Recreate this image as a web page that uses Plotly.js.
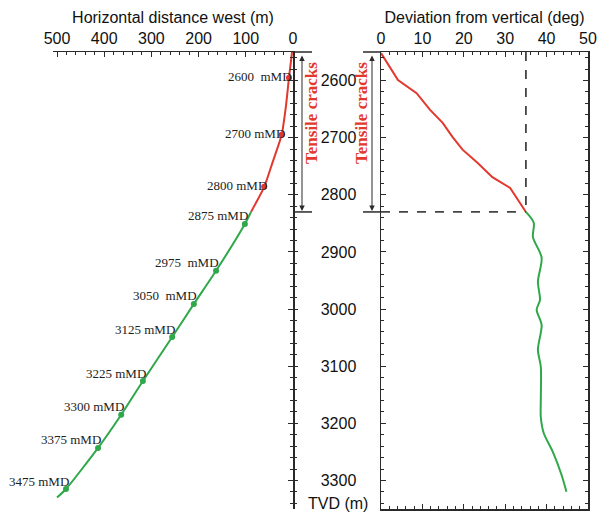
<!DOCTYPE html>
<html>
<head>
<meta charset="utf-8">
<script src="https://cdn.plot.ly/plotly-3.0.1.min.js"></script>
<style>html,body{margin:0;padding:0;background:#fff;}#chart{width:605px;height:519px;}</style>
</head>
<body>
<div id="chart"></div>
<script>
// ---- Data ----
// Left panel: horizontal distance west (m) vs TVD (m)
const hdRedTVD   = [2550, 2595, 2645, 2695, 2745, 2786, 2830];
const hdRedWest  = [2, 8.5, 15, 24, 44, 61, 89];
const hdGreenTVD  = [2830, 2851, 2933, 2991, 3049, 3126, 3185, 3243, 3315, 3330];
const hdGreenWest = [89, 102, 163, 210, 256, 318, 364, 413, 481, 500];

// Measured-depth markers
const mdLabels = ['2600  mMD', '2700 mMD', '2800 mMD', '2875 mMD', '2975  mMD', '3050  mMD',
                  '3125 mMD', '3225 mMD', '3300 mMD', '3375 mMD', '3475 mMD'];
const mdWest = [8.5, 24, 61, 102, 163, 210, 256, 318, 364, 413, 481];
const mdTVD  = [2595, 2695, 2786, 2851, 2933, 2991, 3049, 3126, 3185, 3243, 3315];
const mdInCracks = [true, true, true, false, false, false, false, false, false, false, false];

// Right panel: deviation from vertical (deg) vs TVD (m)
const devRedTVD = [2552, 2599, 2622, 2651, 2674, 2699, 2721, 2744, 2769, 2788, 2830];
const devRed    = [0, 4.1, 8.6, 11.8, 14.9, 17.3, 19.7, 23.3, 26.9, 31.2, 35.0];
const devGreenTVD = [2830, 2849, 2874, 2910, 2952, 2984, 3001, 3028, 3071, 3101, 3159, 3189, 3217, 3250, 3290, 3320];
const devGreen    = [35.0, 36.9, 36.7, 38.8, 37.9, 38.4, 37.6, 38.8, 37.9, 38.6, 38.6, 38.6, 39.3, 41.5, 43.6, 44.8];

// Tensile crack interval
const crackTop = 2550, crackBase = 2830, crackDev = 35;

// ---- Styling ----
const RED = '#e2382d', GREEN = '#2fa84a', INK = '#2a2a2a';
const W = 605, H = 519;
const px = p => p / W;
const py = p => 1 - p / H;
const sans = 'Liberation Sans, Arial, sans-serif';
const serif = 'Liberation Serif, Times New Roman, serif';

const traces = [
  {x: hdRedWest, y: hdRedTVD, xaxis: 'x', yaxis: 'y', mode: 'lines', line: {color: RED, width: 2, shape: 'spline', smoothing: 0.6}, hoverinfo: 'skip'},
  {x: hdGreenWest, y: hdGreenTVD, xaxis: 'x', yaxis: 'y', mode: 'lines', line: {color: GREEN, width: 2, shape: 'spline', smoothing: 0.6}, hoverinfo: 'skip'},
  {x: mdWest, y: mdTVD, xaxis: 'x', yaxis: 'y', mode: 'markers',
   marker: {size: 6, color: mdInCracks.map(c => c ? RED : GREEN)}, hoverinfo: 'skip'},
  {x: [], y: [], xaxis: 'x', yaxis: 'y3', mode: 'lines', hoverinfo: 'skip'},
  {x: devRed, y: devRedTVD, xaxis: 'x2', yaxis: 'y2', mode: 'lines', line: {color: RED, width: 2}, hoverinfo: 'skip'},
  {x: devGreen, y: devGreenTVD, xaxis: 'x2', yaxis: 'y2', mode: 'lines', line: {color: GREEN, width: 2, shape: 'spline', smoothing: 0.8}, hoverinfo: 'skip'}
];

const yRange = [3350, 2550];
const yDomain = [1 - 509 / H, 1 - 52 / H];
const common = {showgrid: false, zeroline: false, showline: true, linecolor: INK, linewidth: 1.5,
                tickcolor: INK, tickfont: {family: sans, size: 16, color: '#111'}};

const annotations = mdLabels.map((t, i) => ({
  x: mdWest[i], y: mdTVD[i], xref: 'x', yref: 'y', text: t, showarrow: false,
  xanchor: 'right', yanchor: 'middle', xshift: 5, yshift: mdInCracks[i] ? 1 : 8,
  font: {family: serif, size: 13, color: '#222'}
}));

// Tensile cracks labels and double arrows
[[312, 302], [362, 372]].forEach(([tx, ax]) => {
  annotations.push({x: px(tx), y: py(113), xref: 'paper', yref: 'paper', text: 'Tensile cracks',
    textangle: -90, showarrow: false, xanchor: 'center', yanchor: 'middle',
    font: {family: serif, size: 17, color: RED, weight: 'bold'}});
  annotations.push({x: px(ax), y: py(211), xref: 'paper', yref: 'paper', text: '',
    showarrow: true, ax: 0, ay: -157, arrowside: 'end+start', arrowhead: 2, arrowsize: 1.1,
    arrowwidth: 1, arrowcolor: INK, standoff: 0, startstandoff: 0});
});
annotations.push({x: px(338), y: py(503), xref: 'paper', yref: 'paper', text: 'TVD (m)',
  showarrow: false, xanchor: 'center', yanchor: 'middle', font: {family: sans, size: 16, color: '#111'}});

const shapes = [
  {type: 'line', xref: 'paper', yref: 'paper', x0: px(293), x1: px(312), y0: py(52), y1: py(52), line: {color: INK, width: 1.5}},
  {type: 'line', xref: 'paper', yref: 'y', x0: px(293), x1: px(312), y0: crackBase, y1: crackBase, line: {color: INK, width: 1.5}},
  {type: 'line', xref: 'paper', yref: 'paper', x0: px(363), x1: px(381), y0: py(52), y1: py(52), line: {color: INK, width: 1.5}},
  {type: 'line', xref: 'paper', yref: 'y2', x0: px(363), x1: px(381), y0: crackBase, y1: crackBase, line: {color: INK, width: 1.5}},
  {type: 'line', xref: 'x2', yref: 'y2', x0: 0, x1: crackDev, y0: crackBase, y1: crackBase, line: {color: '#444', width: 1.8, dash: 'dash'}},
  {type: 'line', xref: 'x2', yref: 'y2', x0: crackDev, x1: crackDev, y0: crackTop, y1: crackBase, line: {color: '#444', width: 1.8, dash: 'dash'}}
];

const layout = {
  width: W, height: H, margin: {l: 0, r: 0, t: 0, b: 0},
  paper_bgcolor: '#fff', plot_bgcolor: 'rgba(0,0,0,0)', showlegend: false,
  xaxis: Object.assign({}, common, {
    domain: [px(53), px(293)], range: [508.5, 0], side: 'top', anchor: 'y',
    ticks: 'inside', ticklen: 5, dtick: 100, minor: {dtick: 20, ticks: 'inside', ticklen: 3, tickcolor: INK},
    title: {text: 'Horizontal distance west (m)', font: {family: sans, size: 16, color: '#111'}, standoff: 2}
  }),
  yaxis: Object.assign({}, common, {
    domain: yDomain, range: yRange, side: 'right', anchor: 'x',
    ticks: 'inside', ticklen: 5, dtick: 100, showticklabels: false,
    minor: {dtick: 20, ticks: 'inside', ticklen: 3, tickcolor: INK}
  }),
  yaxis3: {
    overlaying: 'y', side: 'right', anchor: 'x', range: yRange, showgrid: false, zeroline: false,
    showline: false, showticklabels: false, ticks: 'outside', ticklen: 4, dtick: 100, tickcolor: INK,
    minor: {dtick: 20, ticks: 'outside', ticklen: 3, tickcolor: INK}
  },
  xaxis2: Object.assign({}, common, {
    domain: [px(381), px(588)], range: [0, 50], side: 'top', anchor: 'y2', mirror: 'ticks',
    ticks: 'inside', ticklen: 5, dtick: 10, minor: {dtick: 2, ticks: 'inside', ticklen: 3, tickcolor: INK},
    title: {text: 'Deviation from vertical (deg)', font: {family: sans, size: 16, color: '#111'}, standoff: 2}
  }),
  yaxis2: Object.assign({}, common, {
    domain: yDomain, range: yRange, side: 'left', anchor: 'x2', mirror: 'ticks',
    ticks: 'inside', ticklen: 5, dtick: 100, ticklabelstandoff: 20,
    minor: {dtick: 20, ticks: 'inside', ticklen: 3, tickcolor: INK}
  }),
  annotations: annotations,
  shapes: shapes
};

Plotly.newPlot('chart', traces, layout, {staticPlot: true, displayModeBar: false});
</script>
</body>
</html>
